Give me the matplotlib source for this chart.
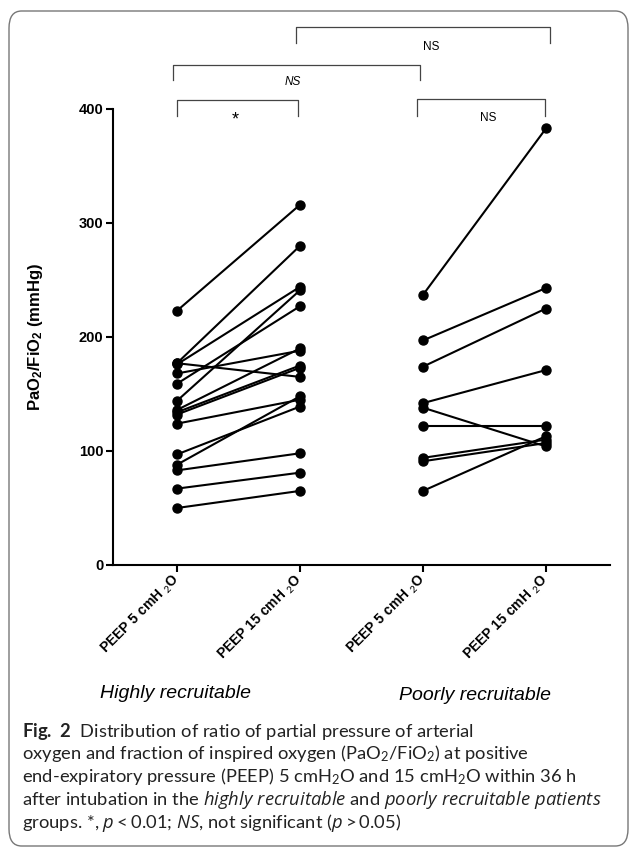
import matplotlib
matplotlib.use('Agg')
import matplotlib.pyplot as plt
from matplotlib.patches import FancyBboxPatch

plt.rcParams['font.family'] = ['Liberation Sans', 'DejaVu Sans']
plt.rcParams['mathtext.fontset'] = 'custom'
plt.rcParams['mathtext.rm'] = 'Lato'
plt.rcParams['mathtext.it'] = 'Open Sans:italic'
plt.rcParams['mathtext.bf'] = 'Lato:bold'
plt.rcParams['mathtext.default'] = 'regular'

categories = [r'PEEP 5 cmH $_{\mathrm{2}}$O', r'PEEP 15 cmH $_{\mathrm{2}}$O',
              r'PEEP 5 cmH $_{\mathrm{2}}$O', r'PEEP 15 cmH $_{\mathrm{2}}$O']
groups = ['Highly recruitable', 'Poorly recruitable']

# highly recruitable: PEEP 5 -> PEEP 15
high_peep5 = [223, 177, 176, 177, 168, 159, 144, 136, 134, 132, 124, 97, 88, 83, 67, 50]
high_peep15 = [316, 280, 244, 165, 188, 227, 241, 190, 175, 173, 145, 139, 148, 98, 81, 65]
# poorly recruitable
poor_peep5 = [237, 197, 174, 142, 138, 122, 94, 91, 65]
poor_peep15 = [383, 243, 225, 171, 104, 122, 110, 107, 113]

W, H = 630, 856
fig = plt.figure(figsize=(W / 100, H / 100), dpi=100)
ax = fig.add_axes([113 / W, 1 - 565 / H, (610 - 113) / W, (565 - 109) / H])

for a, b in zip(high_peep5, high_peep15):
    ax.plot([0, 1], [a, b], color='black', lw=1.5, marker='o', ms=6.5, clip_on=False)
for a, b in zip(poor_peep5, poor_peep15):
    ax.plot([2, 3], [a, b], color='black', lw=1.5, marker='o', ms=6.5, clip_on=False)

ax.set_xlim(-0.52, 3.52)
ax.set_ylim(0, 400)
ax.set_yticks([0, 100, 200, 300, 400])
ax.set_xticks(range(4))
ax.set_xticklabels(categories, rotation=45, ha='right', va='center',
                   rotation_mode='anchor', fontweight='bold', fontsize=10)
for lab in ax.get_yticklabels():
    lab.set_fontweight('bold')
ax.tick_params(axis='y', labelsize=10.5, width=1.5, length=5, pad=2)
ax.tick_params(axis='x', width=1.5, length=5, pad=4)
for s in ['top', 'right']:
    ax.spines[s].set_visible(False)
for s in ['left', 'bottom']:
    ax.spines[s].set_linewidth(1.5)
ax.set_ylabel(r'PaO$_2$/FiO$_2$ (mmHg)', fontweight='bold', fontsize=12)
ax.yaxis.set_label_coords((45 - 113) / 497, 0.5)


def bracket(x0, x1, ytop, ybot, label, lx, ly, style='normal', size=8.5):
    ax.plot([x0, x0, x1, x1], [ybot, ytop, ytop, ybot], color='#444444', lw=0.9, clip_on=False)
    ax.text(lx, ly, label, ha='center', va='center', fontsize=size, style=style)


bracket(0.0, 0.98, 408, 394, '*', 0.47, 390, size=13)
bracket(-0.03, 1.976, 438.6, 425.4, 'NS', 0.94, 423.7, style='italic')
bracket(0.967, 3.03, 471.5, 458, 'NS', 2.07, 454.6)
bracket(1.95, 2.99, 408.8, 394, 'NS', 2.53, 392)

fig.text(176 / W, 1 - 693 / H, groups[0], ha='center', va='center', fontsize=14, style='italic')
fig.text(475 / W, 1 - 695 / H, groups[1], ha='center', va='center', fontsize=14, style='italic')

caption = [
    r'$\mathbf{Fig.\ 2}$  Distribution of ratio of partial pressure of arterial',
    r'oxygen and fraction of inspired oxygen (PaO$_2$/FiO$_2$) at positive',
    r'end-expiratory pressure (PEEP) 5 cmH$_2$O and 15 cmH$_2$O within 36 h',
    r'after intubation in the $\mathit{highly\ recruitable}$ and $\mathit{poorly\ recruitable\ patients}$',
    r'groups. *, $\mathit{p<0.01}$; $\mathit{NS}$, not significant ($\mathit{p>0.05}$)',
]
baselines = [737, 759, 782, 805, 828]
for line, yb in zip(caption, baselines):
    fig.text(22 / W, 1 - yb / H, line, ha='left', va='baseline', fontsize=13.2,
             family='Lato', color='#222222')

frame = FancyBboxPatch((9 / W, 1 - 846 / H), (628 - 9) / W, (846 - 11) / H,
                       boxstyle='round,pad=0,rounding_size=0.02', transform=fig.transFigure,
                       fill=False, edgecolor='#777777', lw=1.0, clip_on=False)
fig.patches.append(frame)

fig.savefig('out.png', dpi=100)
